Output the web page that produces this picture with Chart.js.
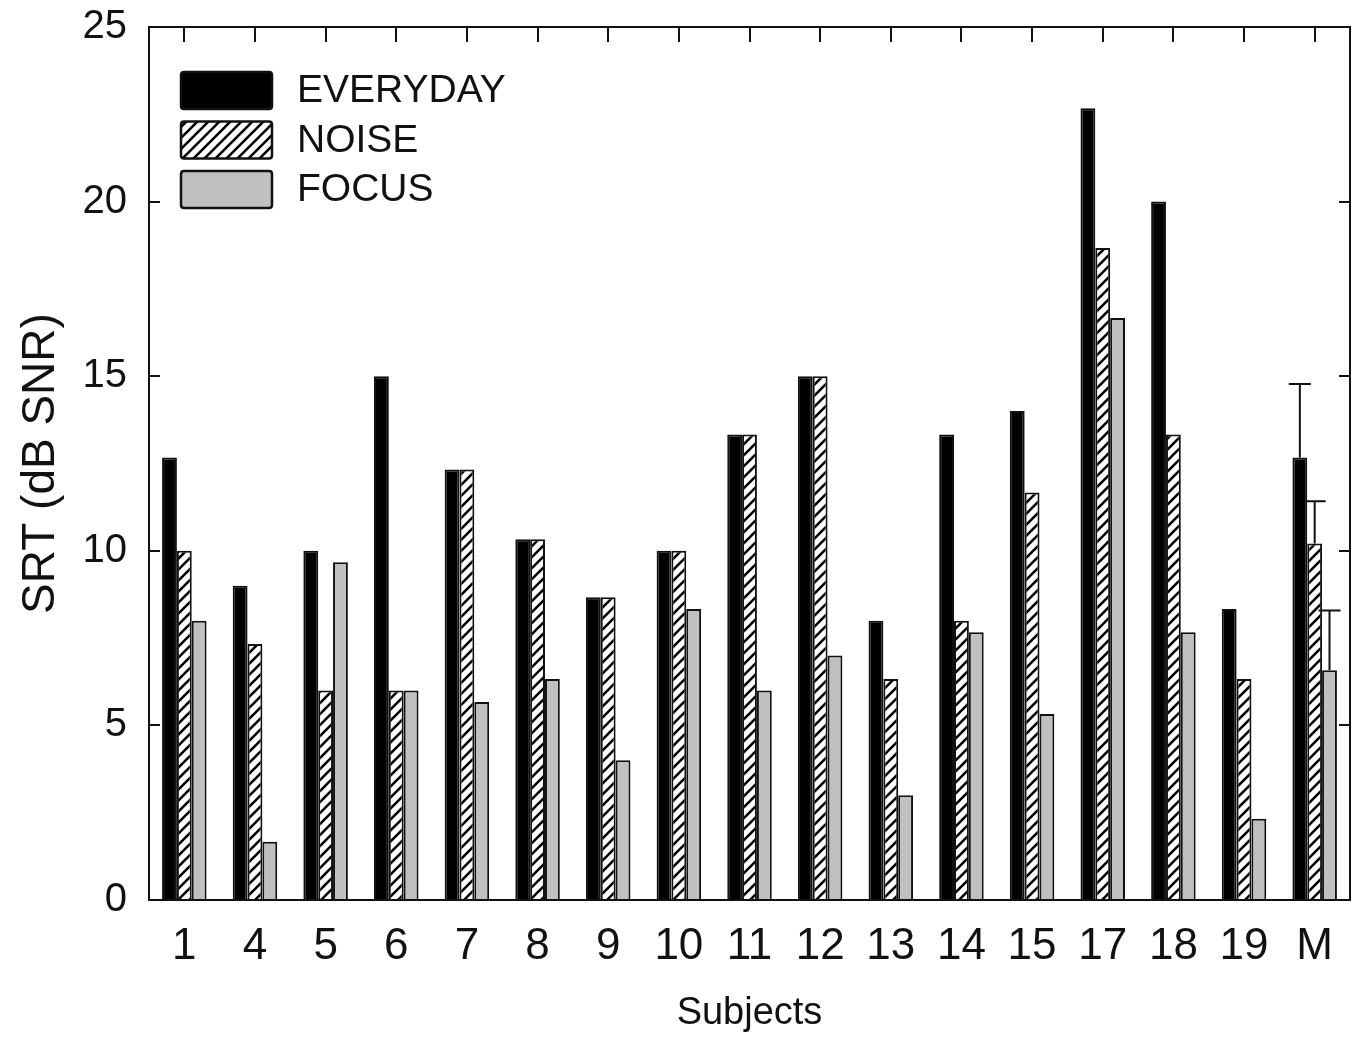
<!DOCTYPE html>
<html>
<head>
<meta charset="utf-8">
<script src="https://cdn.jsdelivr.net/npm/chart.js@4/dist/chart.umd.min.js"></script>
<style>
html,body{margin:0;padding:0;background:#fff;}
canvas{display:block;}
</style>
</head>
<body>
<canvas id="c" width="1358" height="1038"></canvas>
<script>
// ---- data ----
const categories = ['1','4','5','6','7','8','9','10','11','12','13','14','15','17','18','19','M'];
const everyday = [12.67, 9.0, 10.0, 15.0, 12.33, 10.33, 8.67, 10.0, 13.33, 15.0, 8.0, 13.33, 14.0, 22.67, 20.0, 8.33, 12.67];
const noise    = [10.0, 7.33, 6.0, 6.0, 12.33, 10.33, 8.67, 10.0, 13.33, 15.0, 6.33, 8.0, 11.67, 18.67, 13.33, 6.33, 10.21];
const focus    = [8.0, 1.67, 9.67, 6.0, 5.67, 6.33, 4.0, 8.33, 6.0, 7.0, 3.0, 7.67, 5.33, 16.67, 7.67, 2.33, 6.58];
// upper error (only for mean "M")
const errEveryday = [null,null,null,null,null,null,null,null,null,null,null,null,null,null,null,null,2.11];
const errNoise    = [null,null,null,null,null,null,null,null,null,null,null,null,null,null,null,null,1.21];
const errFocus    = [null,null,null,null,null,null,null,null,null,null,null,null,null,null,null,null,1.71];
const seriesLabels = ['EVERYDAY','NOISE','FOCUS'];
const yTicks = [0,5,10,15,20,25];

const FONT = '"Liberation Sans", Arial, Helvetica, sans-serif';
const canvas = document.getElementById('c');
const ctx = canvas.getContext('2d');

function makeHatch(){
  const s = 11;
  const c = document.createElement('canvas'); c.width = s; c.height = s;
  const g = c.getContext('2d');
  g.fillStyle = '#fff'; g.fillRect(0,0,s,s);
  g.strokeStyle = '#000'; g.lineWidth = 2.6; g.lineCap = 'square';
  g.beginPath();
  g.moveTo(-2, s+2); g.lineTo(s+2, -2);
  g.moveTo(-2, 2); g.lineTo(2, -2);
  g.moveTo(s-2, s+2); g.lineTo(s+2, s-2);
  g.stroke();
  return ctx.createPattern(c, 'repeat');
}
const hatch = makeHatch();

const framePlugin = {
  id: 'frame',
  afterDatasetsDraw(chart){
    const {ctx, chartArea:a, scales} = chart;
    ctx.save();
    ctx.strokeStyle = '#111'; ctx.lineWidth = 2;
    ctx.strokeRect(a.left, a.top, a.right - a.left, a.bottom - a.top);
    ctx.beginPath();
    yTicks.forEach(v => {
      if (v === 0 || v === 25) return;
      const y = Math.round(scales.y.getPixelForValue(v));
      ctx.moveTo(a.left, y); ctx.lineTo(a.left + 11, y);
      ctx.moveTo(a.right, y); ctx.lineTo(a.right - 11, y);
    });
    categories.forEach((c, i) => {
      const x = Math.round(scales.x.getPixelForValue(i));
      ctx.moveTo(x, a.top); ctx.lineTo(x, a.top + 15);
    });
    ctx.stroke();
    ctx.restore();
  }
};

const errorPlugin = {
  id: 'errbars',
  afterDatasetsDraw(chart){
    const {ctx, scales} = chart;
    ctx.save();
    ctx.strokeStyle = '#111'; ctx.lineWidth = 2;
    chart.data.datasets.forEach((ds, di) => {
      if (!ds.errors) return;
      const meta = chart.getDatasetMeta(di);
      ds.errors.forEach((e, j) => {
        if (e == null) return;
        const bar = meta.data[j];
        const x = bar.x;
        const y0 = scales.y.getPixelForValue(ds.data[j]);
        const y1 = scales.y.getPixelForValue(ds.data[j] + e);
        ctx.beginPath();
        ctx.moveTo(x, y0); ctx.lineTo(x, y1);
        ctx.moveTo(x - 11, y1); ctx.lineTo(x + 11, y1);
        ctx.stroke();
      });
    });
    ctx.restore();
  }
};

function roundRect(c, x, y, w, h, r){
  c.beginPath();
  c.moveTo(x + r, y); c.lineTo(x + w - r, y); c.quadraticCurveTo(x + w, y, x + w, y + r);
  c.lineTo(x + w, y + h - r); c.quadraticCurveTo(x + w, y + h, x + w - r, y + h);
  c.lineTo(x + r, y + h); c.quadraticCurveTo(x, y + h, x, y + h - r);
  c.lineTo(x, y + r); c.quadraticCurveTo(x, y, x + r, y); c.closePath();
}

const legendPlugin = {
  id: 'insideLegend',
  afterDatasetsDraw(chart){
    const {ctx, chartArea:a} = chart;
    ctx.save();
    const bx = a.left + 32, bw = 91, bh = 37;
    chart.data.datasets.forEach((ds, i) => {
      const by = a.top + 45 + i * 49.5;
      roundRect(ctx, bx, by, bw, bh, 3);
      ctx.fillStyle = ds.backgroundColor; ctx.fill();
      ctx.lineWidth = 2.5; ctx.strokeStyle = '#111'; ctx.stroke();
      ctx.fillStyle = '#111';
      ctx.font = '39px ' + FONT;
      ctx.textBaseline = 'middle'; ctx.textAlign = 'left';
      ctx.fillText(ds.label, bx + bw + 25, by + bh / 2 + 1);
    });
    ctx.restore();
  }
};

new Chart(ctx, {
  type: 'bar',
  data: {
    labels: categories,
    datasets: [
      {label: seriesLabels[0], data: everyday, errors: errEveryday, backgroundColor: '#000', borderColor: '#111', borderWidth: 2},
      {label: seriesLabels[1], data: noise, errors: errNoise, backgroundColor: hatch, borderColor: '#111', borderWidth: 2},
      {label: seriesLabels[2], data: focus, errors: errFocus, backgroundColor: '#c0c0c0', borderColor: '#111', borderWidth: 2}
    ]
  },
  options: {
    responsive: false,
    animation: false,
    events: [],
    layout: {padding: {top: 27, right: 8, left: 0, bottom: 0}},
    datasets: {bar: {categoryPercentage: 0.63, barPercentage: 1.0}},
    plugins: {legend: {display: false}, tooltip: {enabled: false}},
    scales: {
      x: {
        grid: {display: false, drawTicks: false},
        border: {display: false},
        ticks: {font: {size: 44, family: FONT}, color: '#111', padding: 20, maxRotation: 0, autoSkip: false},
        title: {display: true, text: 'Subjects', font: {size: 38, family: FONT}, color: '#111', padding: {top: 0, bottom: 2}},
        afterFit(s){ s.height = 138; s.paddingLeft = 0; s.paddingRight = 0; }
      },
      y: {
        min: 0, max: 25,
        afterBuildTicks(s){ s.ticks = yTicks.map(v => ({value: v})); },
        grid: {display: false, drawTicks: false},
        border: {display: false},
        ticks: {font: {size: 40, family: FONT}, color: '#111', padding: 22},
        title: {display: true, text: 'SRT (dB SNR)', font: {size: 46, family: FONT}, color: '#111', padding: {top: 14, bottom: 0}},
        afterFit(s){ s.width = 149; s.paddingTop = 0; s.paddingBottom = 0; }
      }
    }
  },
  plugins: [framePlugin, errorPlugin, legendPlugin]
});
</script>
</body>
</html>
